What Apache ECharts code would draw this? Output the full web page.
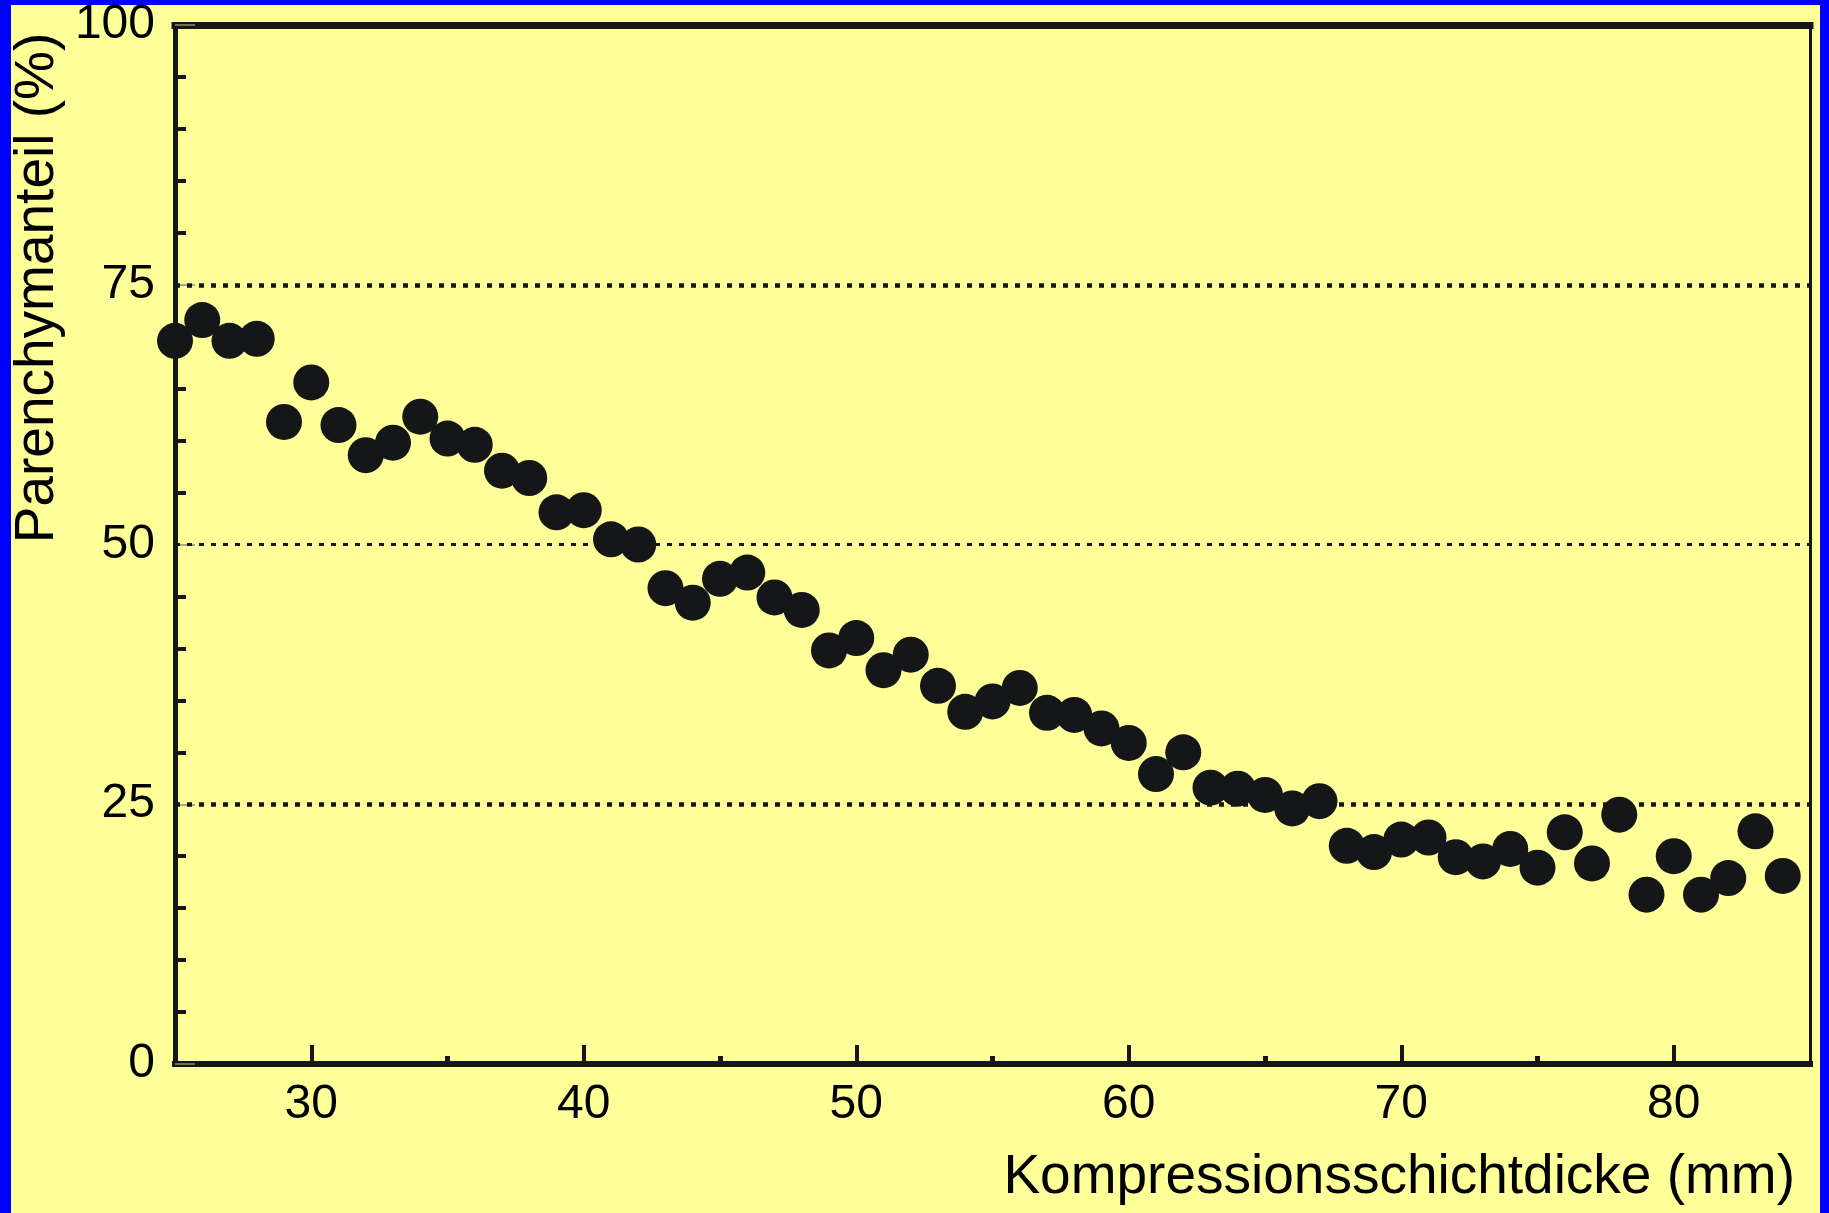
<!DOCTYPE html>
<html>
<head>
<meta charset="utf-8">
<script src="https://cdn.jsdelivr.net/npm/echarts@6/dist/echarts.min.js"></script>
<style>
  html, body { margin: 0; padding: 0; background: #ffff99; }
  #chart { width: 1829px; height: 1213px; }
</style>
</head>
<body>
<div id="chart"></div>
<script>
// Compression layer thickness (mm)
const thickness = [
  25, 26, 27, 28, 29, 30, 31, 32, 33, 34,
  35, 36, 37, 38, 39, 40, 41, 42, 43, 44,
  45, 46, 47, 48, 49, 50, 51, 52, 53, 54,
  55, 56, 57, 58, 59, 60, 61, 62, 63, 64,
  65, 66, 67, 68, 69, 70, 71, 72, 73, 74,
  75, 76, 77, 78, 79, 80, 81, 82, 83, 84
];

// Parenchyma share (%)
const parenchyma = [
  69.6, 71.6, 69.6, 69.8, 61.8, 65.6, 61.5, 58.6, 59.8, 62.3,
  60.2, 59.6, 57.1, 56.4, 53.1, 53.3, 50.5, 50.0, 45.8, 44.4,
  46.7, 47.3, 44.9, 43.7, 39.8, 41.0, 37.9, 39.4, 36.4, 33.9,
  34.9, 36.2, 33.8, 33.6, 32.3, 30.9, 27.9, 30.0, 26.6, 26.5,
  25.9, 24.6, 25.3, 21.0, 20.4, 21.6, 21.8, 19.9, 19.5, 20.7,
  18.9, 22.3, 19.3, 24.0, 16.3, 20.0, 16.3, 17.9, 22.4, 18.1
];

// Tick positions
const xMajorTicks = [30, 40, 50, 60, 70, 80];
const xMinorTicks = [35, 45, 55, 65, 75];
const yReferenceLines = [25, 50, 75];

const xTitle = 'Kompressionsschichtdicke (mm)';
const yTitle = 'Parenchymanteil (%)';

const ink = '#141618';
const font = '"Liberation Sans", Arial, Helvetica, sans-serif';
const refLineWidths = [4.5, 3, 4.5];

const points = thickness.map((x, i) => [x, parenchyma[i]]);

const chart = echarts.init(document.getElementById('chart'), null, { renderer: 'canvas' });

chart.setOption({
  backgroundColor: '#ffff99',
  animation: false,
  grid: { left: 175, right: 19, top: 25, bottom: 149, containLabel: false },
  xAxis: [
    {
      type: 'value', min: 25, max: 85, position: 'bottom',
      axisLine: { show: true, onZero: false, lineStyle: { color: ink, width: 6, cap: 'square' } },
      axisTick: { show: true, inside: true, length: 19, customValues: xMajorTicks,
                  lineStyle: { color: ink, width: 4 } },
      axisLabel: { show: true, customValues: xMajorTicks, fontSize: 48, fontFamily: font,
                   color: '#000', margin: 17 },
      splitLine: { show: false }
    },
    {
      type: 'value', min: 25, max: 85, position: 'bottom',
      axisLine: { show: false },
      axisTick: { show: true, inside: true, length: 8, customValues: xMinorTicks,
                  lineStyle: { color: ink, width: 5 } },
      axisLabel: { show: false },
      splitLine: { show: false }
    },
    {
      type: 'value', min: 25, max: 85, position: 'top',
      axisLine: { show: true, onZero: false, lineStyle: { color: ink, width: 7, cap: 'square' } },
      axisTick: { show: false },
      axisLabel: { show: false },
      splitLine: { show: false }
    }
  ],
  yAxis: [
    {
      type: 'value', min: 0, max: 100, interval: 25, position: 'left',
      axisLine: { show: true, onZero: false, lineStyle: { color: ink, width: 5, cap: 'square' } },
      axisTick: { show: true, inside: true, length: 20, lineStyle: { color: '#8f8f70', width: 1.5 } },
      minorTick: { show: true, splitNumber: 5, length: 11, lineStyle: { color: ink, width: 4 } },
      axisLabel: { show: true, fontSize: 48, fontFamily: font, color: '#000', margin: 20,
                   padding: [7, 0, 0, 0] },
      splitLine: { show: false }
    },
    {
      type: 'value', min: 0, max: 100, interval: 25, position: 'right',
      axisLine: { show: true, onZero: false, lineStyle: { color: ink, width: 3 } },
      axisTick: { show: false },
      axisLabel: { show: false },
      splitLine: { show: false }
    }
  ],
  series: [
    {
      type: 'scatter',
      xAxisIndex: 0,
      yAxisIndex: 0,
      data: points,
      symbol: 'circle',
      symbolSize: 36,
      clip: false,
      z: 3,
      itemStyle: { color: ink, opacity: 1 },
      emphasis: { disabled: true },
      markLine: {
        z: 1,
        silent: true,
        symbol: 'none',
        label: { show: false },
        lineStyle: { color: ink, type: [5, 7] },
        data: yReferenceLines.map((v, i) => ({ yAxis: v, lineStyle: { width: refLineWidths[i], color: ink, type: [5, 7] } }))
      }
    }
  ],
  graphic: [
    { type: 'rect', shape: { x: 0, y: 0, width: 11, height: 1213 }, style: { fill: '#0000ff' }, silent: true },
    { type: 'rect', shape: { x: 0, y: 0, width: 1829, height: 5 }, style: { fill: '#0000ff' }, silent: true },
    { type: 'rect', shape: { x: 1820, y: 0, width: 9, height: 1213 }, style: { fill: '#0000ff' }, silent: true },
    {
      type: 'text', x: 1795, y: 1178, silent: true,
      style: { text: xTitle, font: '55px ' + font, fill: '#000', align: 'right', verticalAlign: 'middle' }
    },
    {
      type: 'text', x: 38, y: 288, rotation: Math.PI / 2, silent: true,
      style: { text: yTitle, font: '55px ' + font, fill: '#000', align: 'center', verticalAlign: 'middle' }
    }
  ]
});
</script>
</body>
</html>
